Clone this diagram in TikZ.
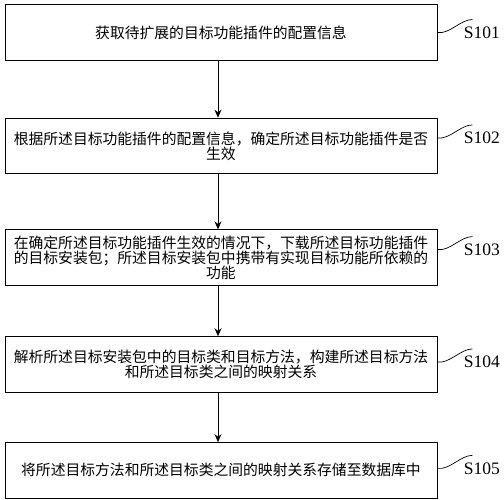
\documentclass[tikz,border=0pt]{standalone}
\usepackage{fontspec}
\setmainfont{Liberation Serif}
\newfontfamily\cjk{Noto Sans CJK SC}
\usetikzlibrary{positioning,arrows.meta}

\begin{document}
\begin{tikzpicture}[line width=0.9pt,
        box node/.style={draw,minimum width=432pt,minimum height=55.5pt,inner sep=0pt,
            align=center,font=\cjk\fontsize{14.8pt}{15pt}\selectfont},
        tag node/.style={anchor=west,inner sep=0pt,font=\fontsize{17.5pt}{17.5pt}\selectfont},
        flow/.style={-{Stealth[length=8pt,width=7pt]}},
        curl/.style={line width=0.7pt}]

    \useasboundingbox (0,0) rectangle (504pt,-500pt);

    \node[box node] (s1) at (221pt,-32.5pt) {获取待扩展的目标功能插件的配置信息};
    \node[box node] (s2) [below=57pt of s1] {根据所述目标功能插件的配置信息，确定所述目标功能插件是否\\生效};
    \node[box node] (s3) [below=55.25pt of s2] {在确定所述目标功能插件生效的情况下，下载所述目标功能插件\\的目标安装包；所述目标安装包中携带有实现目标功能所依赖的\\功能};
    \node[box node] (s4) [below=50.5pt of s3] {解析所述目标安装包中的目标类和目标方法，构建所述目标方法\\和所述目标类之间的映射关系};
    \node[box node] (s5) [below=49.5pt of s4] {将所述目标方法和所述目标类之间的映射关系存储至数据库中};

    \node[tag node] (t1) at ([xshift=26pt]s1.east) {S101};
    \node[tag node] (t2) at ([xshift=26pt,yshift=8pt]s2.east) {S102};
    \node[tag node] (t3) at ([xshift=26pt,yshift=8pt]s3.east) {S103};
    \node[tag node] (t4) at ([xshift=26pt,yshift=2.5pt]s4.east) {S104};
    \node[tag node] (t5) at ([xshift=26pt,yshift=2pt]s5.east) {S105};

    \path[flow]
    ([xshift=-3pt]s1.south) edge ([xshift=-3pt]s2.north)
    ([xshift=-3pt]s2.south) edge ([xshift=-3pt]s3.north)
    ([xshift=-3pt]s3.south) edge ([xshift=-3pt]s4.north)
    ([xshift=-3pt]s4.south) edge ([xshift=-3pt]s5.north);

    % step numbers hooked to the boxes
    \draw[curl] (s1.east |- t1.west) .. controls +(12pt,-2pt) and +(-12pt,0pt) .. ([xshift=9pt,yshift=13pt]t1.west);
    \draw[curl] (s2.east |- t2.west) .. controls +(12pt,-2pt) and +(-12pt,0pt) .. ([xshift=9pt,yshift=13pt]t2.west);
    \draw[curl] (s3.east |- t3.west) .. controls +(12pt,-2pt) and +(-12pt,0pt) .. ([xshift=9pt,yshift=13pt]t3.west);
    \draw[curl] (s4.east |- t4.west) .. controls +(12pt,-2pt) and +(-12pt,0pt) .. ([xshift=9pt,yshift=13pt]t4.west);
    \draw[curl] (s5.east |- t5.west) .. controls +(12pt,-2pt) and +(-12pt,0pt) .. ([xshift=9pt,yshift=13pt]t5.west);
\end{tikzpicture}
\end{document}
